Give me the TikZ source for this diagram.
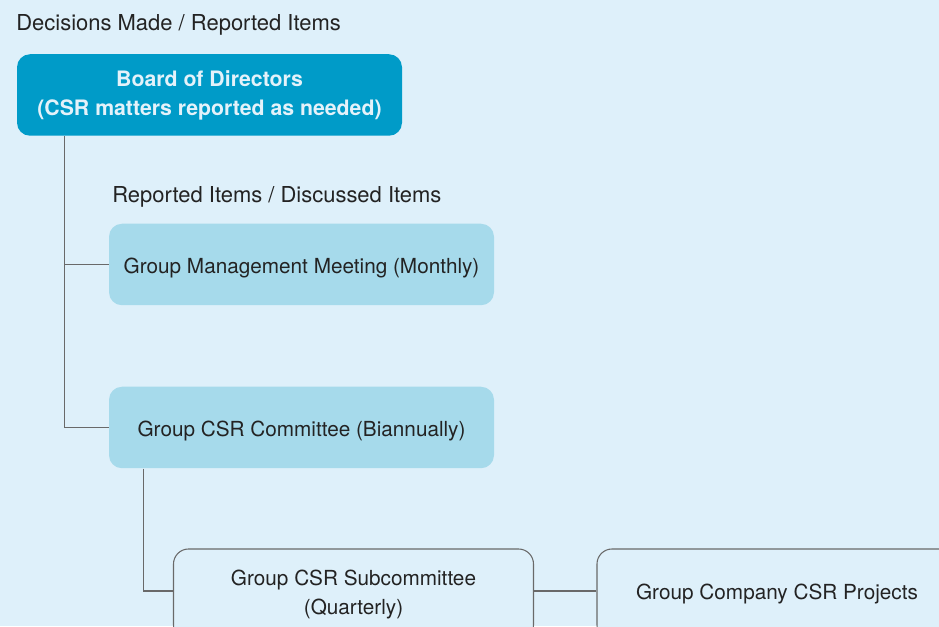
\documentclass[tikz,border=0pt]{standalone}
\usepackage{fontspec}
\setmainfont{TeX Gyre Heros}
\usepackage{tikz}
\usetikzlibrary{positioning,calc}
\definecolor{pagecolor}{RGB}{222, 240, 250}
\definecolor{boardcolor}{RGB}{0, 155, 200}
\definecolor{meetcolor}{RGB}{166, 218, 235}
\definecolor{textcolor}{RGB}{35, 35, 35}
\definecolor{boardtext}{RGB}{228, 242, 250}
\definecolor{linkcolor}{RGB}{105, 105, 105}
\tikzset{
    unit/.style={rectangle, rounded corners=0.26cm, align=center, text=textcolor,
        font=\fontsize{11.8}{16.5}\selectfont, minimum width=7.7cm, minimum height=1.63cm, inner sep=0pt},
    board unit/.style={unit, fill=boardcolor, text=boardtext, font=\fontsize{12.1}{16.5}\selectfont\bfseries},
    meeting unit/.style={unit, fill=meetcolor, text height=9.7pt, text depth=0pt},
    outline unit/.style={unit, draw=linkcolor, line width=0.6pt, fill=pagecolor,
        rounded corners=0.3cm, minimum width=7.2cm, minimum height=1.82cm},
    level label/.style={anchor=west, text=textcolor, font=\fontsize{12.5}{14}\selectfont, inner sep=0pt},
    link/.style={draw=linkcolor, line width=0.6pt}
}

\begin{document}
\begin{tikzpicture}
    % Page area and background
    \useasboundingbox (0,0) rectangle (18.78,12.52);
    \clip (0,0) rectangle (18.78,12.52);
    \fill[pagecolor] (0,0) rectangle (18.78,12.52);

    % Level labels
    \node[level label] (decided) at (0.32,12.02) {Decisions Made / Reported Items};
    \node[level label] (reported) at (2.24,8.58) {Reported Items / Discussed Items};

    % Board and meetings
    \node[board unit] (board) at (4.19,10.62) {Board of Directors\\(CSR matters reported as needed)};
    \node[meeting unit] (mgmt) at (6.03,7.23) {Group Management Meeting (Monthly)};
    \node[meeting unit] (csr) at (6.03,3.97) {Group CSR Committee (Biannually)};

    % Subcommittee and projects (run off the page)
    \node[outline unit] (sub) at (7.07,0.63) {Group CSR Subcommittee\\(Quarterly)};
    \node[outline unit] (proj) at (15.54,0.63) {Group Company CSR Projects};

    % Reporting lines
    \draw[link] ([xshift=0.96cm]board.south west) |- (mgmt.west);
    \draw[link] ([xshift=0.96cm]board.south west) |- (csr.west);
    \draw[link] ([xshift=0.70cm]csr.south west) |- ([yshift=0.07cm]sub.west);
    \draw[link] ([yshift=0.07cm]sub.east) -- ([yshift=0.07cm]proj.west);
\end{tikzpicture}
\end{document}
